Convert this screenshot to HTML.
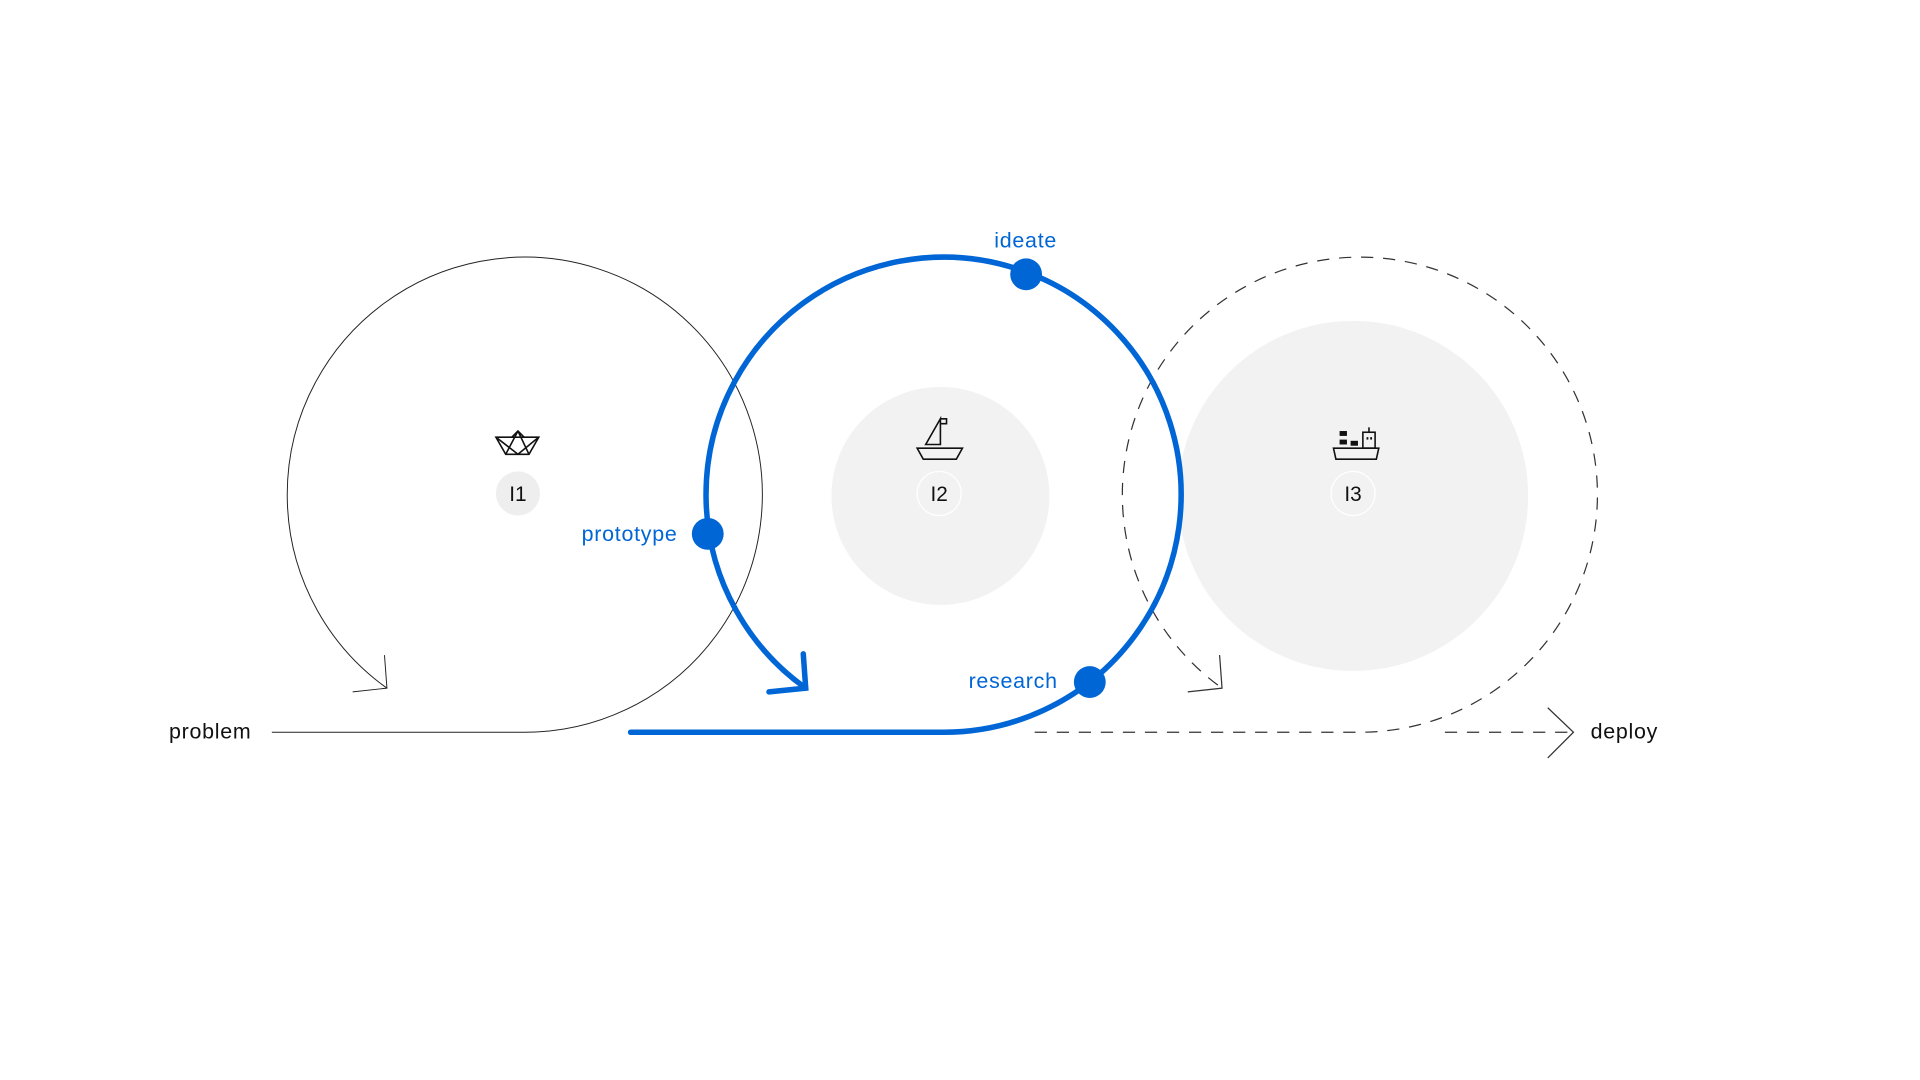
<!DOCTYPE html>
<html><head><meta charset="utf-8"><style>
html,body{margin:0;padding:0;background:#fff;}
svg{display:block}
text{font-family:"Liberation Sans",sans-serif;}
</style></head><body>
<svg width="1920" height="1080" viewBox="0 0 1568 882" xmlns="http://www.w3.org/2000/svg">
<rect width="1568" height="882" fill="#fff"/>
<circle cx="768" cy="405" r="89" fill="#f2f2f2"/>
<circle cx="1105" cy="405" r="143" fill="#f2f2f2"/>
<g fill="none" stroke="#222" stroke-width="0.8">
<path d="M222,598 L428,598 A194,194 0 1 0 316,562"/>
<path d="M314,535 L316,562 L288,565"/>
</g>
<g fill="none" stroke="#333" stroke-width="1" stroke-dasharray="10,8">
<path d="M845,598 L1110,598 A194,194 0 1 0 998,562"/>
<path d="M1180,598 L1285,598"/>
</g>
<g fill="none" stroke="#333" stroke-width="1">
<path d="M996,535 L998,562 L970,565"/>
<path d="M1264,578 L1285,598 L1264,619"/>
</g>
<g fill="none" stroke="#0066d6" stroke-width="4.5" stroke-linecap="round">
<path d="M515,598 L768,598 A194,194 0 1 0 658,562"/>
<path d="M656,534 L658,562 L628,565"/>
</g>
<g fill="#0066d6">
<circle cx="838" cy="224" r="13"/>
<circle cx="578" cy="436" r="13"/>
<circle cx="890" cy="557" r="13"/>
</g>
<g fill="#0066d6" font-size="17.5" letter-spacing="0.6">
<text x="812" y="202">ideate</text>
<text x="475" y="442">prototype</text>
<text x="791" y="562">research</text>
</g>
<g fill="#111" font-size="17.5" letter-spacing="0.6">
<text x="138" y="603">problem</text>
<text x="1299" y="603">deploy</text>
</g>
<circle cx="423" cy="403" r="18" fill="#eeeeee"/>
<circle cx="767" cy="403" r="18" fill="#f2f2f2" stroke="#fff" stroke-width="1"/>
<circle cx="1105" cy="403" r="18" fill="#f2f2f2" stroke="#fff" stroke-width="1"/>
<g fill="#111" font-size="17" text-anchor="middle">
<text x="423" y="409">I1</text>
<text x="767" y="409">I2</text>
<text x="1105" y="409">I3</text>
</g>
<g fill="none" stroke="#111" stroke-width="1.3">
<path d="M405,357 L440,357 L432,371 L413,371 Z"/>
<path d="M423,352 L413,371 M423,352 L432,371 M405,357 L423,371 L440,357 M418,357 L423,352 L428,357"/>
<path d="M749,366 L786,366 L781,375 L754,375 Z"/>
<path d="M768,342 L768,363 L756,363 Z"/>
<path d="M768,342 L773,342 L773,346 L768,346"/>
<path d="M1089,366 L1126,366 L1124,375 L1091,375 Z"/>
<rect x="1113" y="353" width="10" height="13"/>
<path d="M1118,349 L1118,353"/>
</g>
<g fill="#111">
<rect x="1094" y="352" width="6" height="4"/>
<rect x="1094" y="359" width="6" height="4"/>
<rect x="1103" y="360" width="6" height="4"/>
<rect x="1116" y="357" width="1.5" height="2"/>
<rect x="1119" y="357" width="1.5" height="2"/>
</g>
</svg>
</body></html>
